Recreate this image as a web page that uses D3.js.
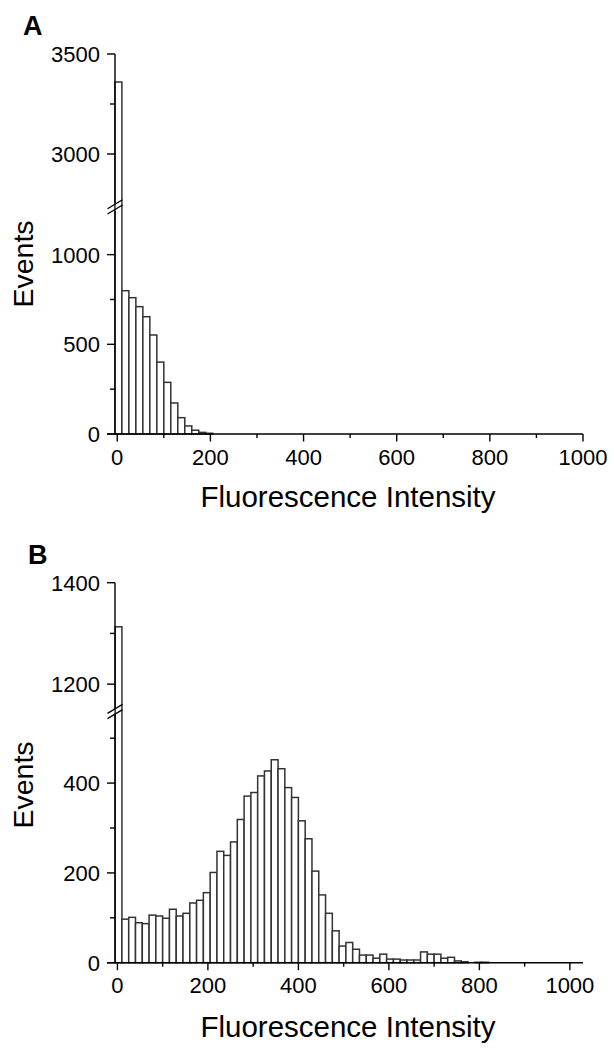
<!DOCTYPE html>
<html>
<head>
<meta charset="utf-8">
<script src="https://cdn.jsdelivr.net/npm/d3@7"></script>
<style>
  html, body { margin: 0; padding: 0; background: #fff; }
  svg text { font-family: "Liberation Sans", Arial, sans-serif; fill: #000; }
</style>
</head>
<body>
<svg id="chart" width="614" height="1050"></svg>
<script>
// ---------------- DATA ----------------
const binWidth = 15;          // histogram bin width (fluorescence units)
const binStart = -5;          // left edge of first bin
// Panel A: events per bin
const eventsA = [3360, 799, 760, 710, 654, 552, 401, 288, 173, 91, 45, 21, 9, 4];
// Panel B: events per bin
const eventsB = [1313, 97, 101, 89, 87, 106, 104, 99, 119, 104, 110, 133, 139, 156, 201,
  248, 239, 269, 319, 371, 379, 416, 427, 452, 432, 390, 368, 316, 276, 204, 151, 110,
  71, 37, 45, 30, 17, 17, 10, 19, 8, 8, 6, 6, 6, 24, 19, 19, 10, 12, 4, 2, 0, 1, 1];
const xMajorTicks = [0, 200, 400, 600, 800, 1000];
const xMinorTicks = [100, 300, 500, 700, 900];
const yMajorA = [0, 500, 1000, 3000, 3500];
const yMinorA = [250, 750, 3250];
const yMajorB = [0, 200, 400, 1200, 1400];
const yMinorB = [100, 300, 500, 1300];
const panelLabels = ["A", "B"];
const xTitle = "Fluorescence Intensity";
const yTitle = "Events";

// ---------------- LAYOUT ----------------
const svg = d3.select("#chart");
const panels = [
  {
    label: panelLabels[0], data: eventsA,
    xDomain: [-22, 1000],
    lower: { domain: [0, 1250], range: [434, 209.8] },
    upper: { domain: [2750, 3500], range: [204, 54] },
    yMajor: yMajorA, yMinor: yMinorA,
    labelPos: [23, 35], yTitleY: 264, xTitleY: 507, tickLabelY: 465
  },
  {
    label: panelLabels[1], data: eventsB,
    xDomain: [-23, 1029],
    lower: { domain: [0, 555], range: [962.7, 713.5] },
    upper: { domain: [1150, 1400], range: [709.5, 582.7] },
    yMajor: yMajorB, yMinor: yMinorB,
    labelPos: [28, 564], yTitleY: 785, xTitleY: 1037, tickLabelY: 993
  }
];

const xLeft = 107, xRight = 583, yAxisX = 115;

panels.forEach(p => {
  const g = svg.append("g");
  const x = d3.scaleLinear().domain(p.xDomain).range([xLeft, xRight]);
  const yLow = d3.scaleLinear().domain(p.lower.domain).range(p.lower.range);
  const yUp = d3.scaleLinear().domain(p.upper.domain).range(p.upper.range);
  const y = v => (v <= p.lower.domain[1] ? yLow(v) : yUp(v));
  const y0 = yLow(0);

  // bars
  const bins = p.data.map((v, i) => ({ x0: binStart + i * binWidth, x1: binStart + (i + 1) * binWidth, v }));
  g.append("g").selectAll("rect").data(bins.filter(d => d.v > 0)).join("rect")
    .attr("x", d => x(d.x0))
    .attr("width", d => x(d.x1) - x(d.x0))
    .attr("y", d => y(d.v))
    .attr("height", d => y0 - y(d.v))
    .attr("fill", "#fff")
    .attr("stroke", "#333")
    .attr("stroke-width", 1.5);

  // x axis
  const xAxis = g.append("g").attr("transform", `translate(0,${y0})`);
  xAxis.append("line").attr("x1", xLeft).attr("x2", xRight).attr("stroke", "#000").attr("stroke-width", 1.4);
  xAxis.selectAll(".xmaj").data(xMajorTicks).join("line")
    .attr("x1", d => x(d)).attr("x2", d => x(d)).attr("y1", 0).attr("y2", 7.5)
    .attr("stroke", "#000").attr("stroke-width", 1.4);
  xAxis.selectAll(".xmin").data(xMinorTicks).join("line")
    .attr("x1", d => x(d)).attr("x2", d => x(d)).attr("y1", 0).attr("y2", 4)
    .attr("stroke", "#000").attr("stroke-width", 1.4);
  g.selectAll(".xlab").data(xMajorTicks).join("text")
    .attr("x", d => x(d)).attr("y", p.tickLabelY)
    .attr("text-anchor", "middle").attr("font-size", 22).text(d => d);

  // y axis (two segments)
  const breakBottom = p.lower.range[1];
  const breakTop = p.upper.range[0];
  g.append("line").attr("x1", yAxisX).attr("x2", yAxisX).attr("y1", y0).attr("y2", breakBottom + 1)
    .attr("stroke", "#000").attr("stroke-width", 1.4);
  g.append("line").attr("x1", yAxisX).attr("x2", yAxisX).attr("y1", breakTop - 1).attr("y2", p.upper.range[1])
    .attr("stroke", "#000").attr("stroke-width", 1.4);
  g.selectAll(".ymaj").data(p.yMajor).join("line")
    .attr("x1", yAxisX - 8).attr("x2", yAxisX).attr("y1", d => y(d)).attr("y2", d => y(d))
    .attr("stroke", "#000").attr("stroke-width", 1.4);
  g.selectAll(".ymin").data(p.yMinor).join("line")
    .attr("x1", yAxisX - 5).attr("x2", yAxisX).attr("y1", d => y(d)).attr("y2", d => y(d))
    .attr("stroke", "#000").attr("stroke-width", 1.4);
  g.selectAll(".ylab").data(p.yMajor).join("text")
    .attr("x", 100).attr("y", d => y(d)).attr("dy", "0.36em")
    .attr("text-anchor", "end").attr("font-size", 22).text(d => d);

  // break marks
  const bc = (breakBottom + breakTop) / 2;
  [2.6, -2.6].forEach(off => {
    g.append("line")
      .attr("x1", yAxisX - 7.5).attr("y1", bc + off + 4.5)
      .attr("x2", yAxisX + 7.5).attr("y2", bc + off - 4.5)
      .attr("stroke", "#000").attr("stroke-width", 1.3);
  });

  // titles
  g.append("text").attr("x", p.labelPos[0]).attr("y", p.labelPos[1])
    .attr("font-size", 27).attr("font-weight", "bold").text(p.label);
  g.append("text").attr("transform", `translate(33,${p.yTitleY}) rotate(-90)`)
    .attr("text-anchor", "middle").attr("font-size", 28.5).text(yTitle);
  g.append("text").attr("x", 348).attr("y", p.xTitleY)
    .attr("text-anchor", "middle").attr("font-size", 29.5).text(xTitle);
});
</script>
</body>
</html>
